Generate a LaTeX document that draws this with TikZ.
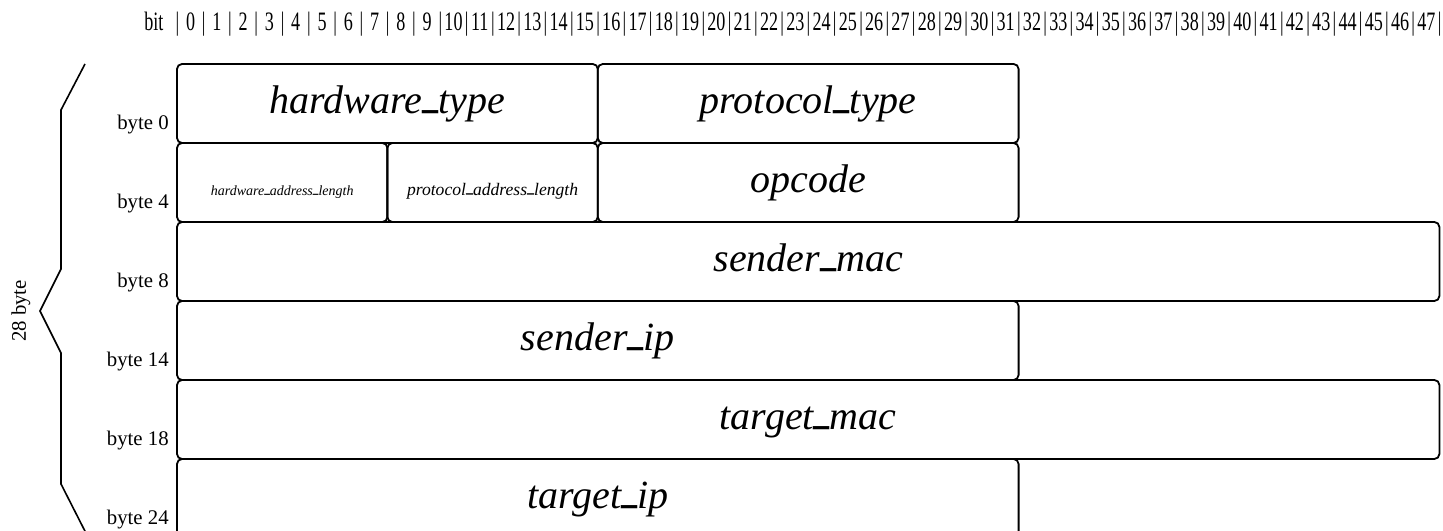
\documentclass[tikz,border=0pt]{standalone}
\usepackage{fontspec}
\setmainfont{Liberation Serif}
\newfontfamily\rulerfont[FakeStretch=0.68]{Liberation Serif}
\usepackage{graphicx}
\usepackage{tikz}
\usetikzlibrary{positioning}

\newcommand{\usc}{\raisebox{0.2em}{\scalebox{0.8}[1.6]{\_}}}

\begin{document}
\begin{tikzpicture}[
    x=13.15pt, y=39.5pt,
    field/.style={rectangle, rounded corners=2.5pt, draw=black, line width=0.9pt, inner sep=0pt, outer sep=0pt, minimum height=39.5pt, minimum width=#1*13.15pt, text height=10pt, text depth=0pt, font=\fontsize{20}{22}\selectfont\itshape},
    small/.style={font=\fontsize{#1}{#1}\selectfont\itshape, text height=13pt},
    bytelbl/.style={anchor=base east, inner sep=0pt, font=\fontsize{10.4}{12}\selectfont},
    bitlbl/.style={anchor=base, inner sep=0pt, font=\rulerfont\fontsize{13.3}{15}\selectfont},
    brace/.style={line width=0.8pt}
]
\useasboundingbox (-6.730,0.810) rectangle (48.137,-5.911);

% bit ruler
\node[bitlbl, anchor=base east] (bit) at (-0.5,0.43) {bit};
\node[bitlbl, anchor=base west] (ruler) at (0,0.43)
  {\foreach \i in {0,...,47}{\makebox[0pt]{|}\makebox[13.15pt]{\i}}\makebox[0pt]{|}};

% fields
\node[field=16] (hwtype) at (8,-0.5) {hardware\usc type};
\node[field=16, right=0pt of hwtype] (ptype) {protocol\usc type};
\node[field=8, small=7, below right=0pt of hwtype.south west] (hwlen) {hardware\usc address\usc length};
\node[field=8, small=8.8, right=0pt of hwlen] (plen) {protocol\usc address\usc length};
\node[field=16, right=0pt of plen] (opcode) {opcode};
\node[field=48, below right=0pt of hwlen.south west] (smac) {sender\usc mac};
\node[field=32, below right=0pt of smac.south west] (sip) {sender\usc ip};
\node[field=48, below right=0pt of sip.south west] (tmac) {target\usc mac};
\node[field=32, below right=0pt of tmac.south west] (tip) {target\usc ip};

% byte offsets
\node[bytelbl] (b0) at (-0.3,-0.823) {byte 0};
\node[bytelbl] (b4) at (-0.3,-1.823) {byte 4};
\node[bytelbl] (b8) at (-0.3,-2.823) {byte 8};
\node[bytelbl] (b14) at (-0.3,-3.823) {byte 14};
\node[bytelbl] (b18) at (-0.3,-4.823) {byte 18};
\node[bytelbl] (b24) at (-0.3,-5.823) {byte 24};

% brace
\draw[brace] (-3.498,0) -- (-4.411,-0.582) -- (-4.411,-2.595) -- (-5.209,-3.127)
  -- (-4.411,-3.658) -- (-4.411,-5.316) -- (-3.308,-6.038);
\node[rotate=90, font=\fontsize{10.4}{12}\selectfont] (total) at (-5.932,-3.127) {28 byte};
\end{tikzpicture}
\end{document}
